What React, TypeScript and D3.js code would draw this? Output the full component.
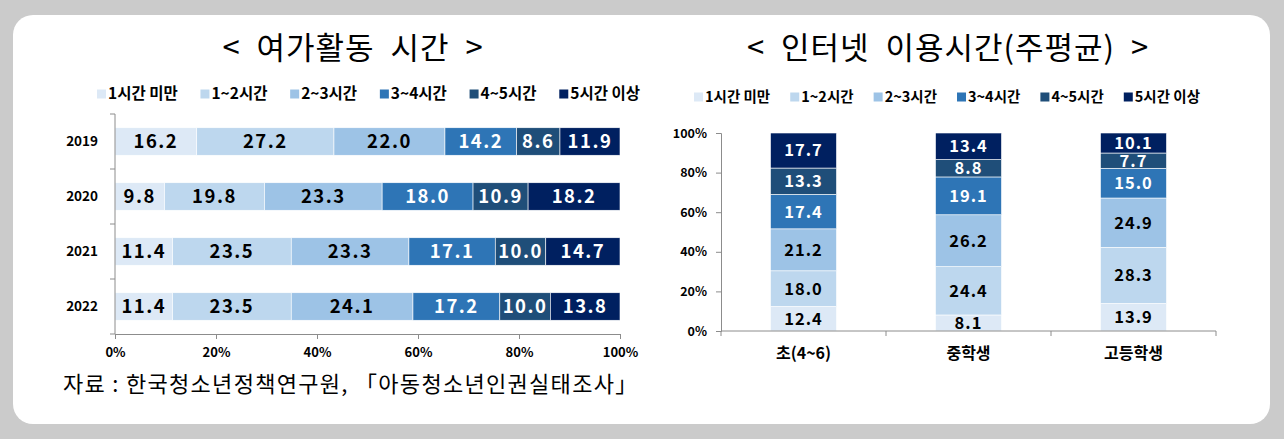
import { useEffect, useRef } from 'react';
import * as d3 from 'd3';

const seriesNames = ['1시간 미만', '1~2시간', '2~3시간', '3~4시간', '4~5시간', '5시간 이상'];
const seriesColors = ['#dde9f6', '#bdd7ee', '#9dc3e6', '#2e75b6', '#1f4e79', '#002060'];
const darkSeries = [false, false, false, true, true, true];

// 여가활동 시간
const years = ['2019', '2020', '2021', '2022'];
const leisure2019 = [16.2, 27.2, 22.0, 14.2, 8.6, 11.9];
const leisure2020 = [9.8, 19.8, 23.3, 18.0, 10.9, 18.2];
const leisure2021 = [11.4, 23.5, 23.3, 17.1, 10.0, 14.7];
const leisure2022 = [11.4, 23.5, 24.1, 17.2, 10.0, 13.8];

// 인터넷 이용시간(주평균)
const schoolLevels = ['초(4~6)', '중학생', '고등학생'];
const internetElem = [12.4, 18.0, 21.2, 17.4, 13.3, 17.7];
const internetMiddle = [8.1, 24.4, 26.2, 19.1, 8.8, 13.4];
const internetHigh = [13.9, 28.3, 24.9, 15.0, 7.7, 10.1];

const pctTicks = [0, 0.2, 0.4, 0.6, 0.8, 1];

const W = 1284;
const H = 439;
const FONT = '"Noto Sans CJK KR", "Malgun Gothic", sans-serif';

type Row = { cat: string; [k: string]: number | string };

const toRows = (cats: string[], vals: number[][]): Row[] =>
  cats.map((c, i) => {
    const r: Row = { cat: c };
    seriesNames.forEach((s, j) => (r[s] = vals[i][j]));
    return r;
  });

function drawLegend(
  g: d3.Selection<SVGGElement, unknown, null, undefined>,
  x0: number,
  x1: number,
  cy: number,
  fontSize: number
) {
  // items spread over [x0, x1]
  const items = g.append('g');
  const lens: number[] = [];
  const nodes = seriesNames.map((s, i) => {
    const it = items.append('g');
    it.append('rect').attr('x', 0).attr('y', cy - 4.5).attr('width', 9).attr('height', 9).attr('fill', seriesColors[i]);
    const t = it
      .append('text')
      .attr('x', 11)
      .attr('y', cy)
      .attr('dy', '0.35em')
      .attr('font-size', fontSize)
      .attr('font-weight', 700)
      .attr('fill', '#000')
      .text(s);
    lens.push(11 + (t.node() as SVGTextElement).getComputedTextLength());
    return it;
  });
  const gap = (x1 - x0 - d3.sum(lens)) / (seriesNames.length - 1);
  let x = x0;
  nodes.forEach((n, i) => {
    n.attr('transform', `translate(${x},0)`);
    x += lens[i] + gap;
  });
}

export default function App() {
  const svgRef = useRef<SVGSVGElement>(null);

  useEffect(() => {
    if (!svgRef.current) return;
    document.body.style.margin = '0';
    const svg = d3.select(svgRef.current);
    svg.selectAll('*').remove();
    svg.attr('font-family', FONT);

    svg.append('rect').attr('width', W).attr('height', H).attr('fill', '#cbcbcb');
    svg
      .append('rect')
      .attr('x', 13)
      .attr('y', 15)
      .attr('width', 1257)
      .attr('height', 409)
      .attr('rx', 20)
      .attr('fill', '#fff');

    const stack = d3.stack<Row>().keys(seriesNames).value((d, k) => d[k] as number).offset(d3.stackOffsetExpand);

    // ---------- left chart ----------
    const left = svg.append('g');
    left
      .append('text')
      .attr('x', 353)
      .attr('y', 48)
      .attr('dy', '0.35em')
      .attr('text-anchor', 'middle')
      .attr('font-size', 31)
      .attr('letter-spacing', 1)
      .attr('fill', '#000')
      .attr('xml:space', 'preserve')
      .text('<  여가활동  시간  >');
    drawLegend(left, 97, 640, 94, 15.5);

    const lx = d3.scaleLinear().domain([0, 1]).range([115, 620]);
    const ly = d3.scaleBand().domain(years).range([114, 334]).paddingInner(0.5).paddingOuter(0.25);
    const leftRows = toRows(years, [leisure2019, leisure2020, leisure2021, leisure2022]);
    const leftStack = stack(leftRows);

    leftStack.forEach((layer, i) => {
      const lg = left.append('g');
      lg.selectAll('rect')
        .data(layer)
        .join('rect')
        .attr('x', (d) => lx(d[0]))
        .attr('y', (d) => ly(d.data.cat)!)
        .attr('width', (d) => lx(d[1]) - lx(d[0]))
        .attr('height', ly.bandwidth())
        .attr('fill', seriesColors[i])
        .attr('stroke', '#fff')
        .attr('stroke-width', 0.6);
      lg.selectAll('text')
        .data(layer)
        .join('text')
        .attr('x', (d) => (lx(d[0]) + lx(d[1])) / 2)
        .attr('y', (d) => ly(d.data.cat)! + ly.bandwidth() / 2)
        .attr('dy', '0.36em')
        .attr('text-anchor', 'middle')
        .attr('font-size', 18.5)
        .attr('letter-spacing', 1.5)
        .attr('font-weight', 700)
        .attr('fill', darkSeries[i] ? '#fff' : '#000')
        .text((d) => (d.data[seriesNames[i]] as number).toFixed(1));
    });

    // y axis with ticks between categories
    const axisColor = '#8c8c8c';
    left.append('line').attr('x1', 115).attr('x2', 115).attr('y1', 114).attr('y2', 334).attr('stroke', axisColor);
    d3.range(years.length + 1).forEach((i) => {
      const yy = 114 + i * ly.step();
      left.append('line').attr('x1', 110).attr('x2', 115).attr('y1', yy).attr('y2', yy).attr('stroke', axisColor);
    });
    left
      .selectAll('text.year')
      .data(years)
      .join('text')
      .attr('class', 'year')
      .attr('x', 98)
      .attr('y', (d) => ly(d)! + ly.bandwidth() / 2)
      .attr('dy', '0.35em')
      .attr('text-anchor', 'end')
      .attr('font-size', 13.5)
      .attr('font-weight', 700)
      .text((d) => d);

    const xAxis = left
      .append('g')
      .attr('transform', 'translate(0,334)')
      .call(d3.axisBottom(lx).tickValues(pctTicks).tickFormat(d3.format('.0%')).tickSize(5).tickPadding(9));
    xAxis.select('.domain').attr('stroke', axisColor);
    xAxis.selectAll('line').attr('stroke', axisColor);
    xAxis
      .selectAll('text')
      .attr('font-size', 13)
      .attr('font-weight', 700)
      .attr('font-family', FONT)
      .attr('fill', '#000');

    // ---------- right chart ----------
    const right = svg.append('g');
    right
      .append('text')
      .attr('x', 948)
      .attr('y', 48)
      .attr('dy', '0.35em')
      .attr('text-anchor', 'middle')
      .attr('font-size', 31)
      .attr('letter-spacing', 1)
      .attr('fill', '#000')
      .attr('xml:space', 'preserve')
      .text('<  인터넷  이용시간(주평균)  >');
    drawLegend(right, 694, 1200, 97, 14.5);

    const rx = d3.scaleBand().domain(schoolLevels).range([721, 1216]).paddingInner(0.6).paddingOuter(0.3);
    const ry = d3.scaleLinear().domain([0, 1]).range([331, 133]);
    const rightRows = toRows(schoolLevels, [internetElem, internetMiddle, internetHigh]);
    const rightStack = stack(rightRows);

    rightStack.forEach((layer, i) => {
      const rg = right.append('g');
      rg.selectAll('rect')
        .data(layer)
        .join('rect')
        .attr('x', (d) => rx(d.data.cat)!)
        .attr('y', (d) => ry(d[1]))
        .attr('width', rx.bandwidth())
        .attr('height', (d) => ry(d[0]) - ry(d[1]))
        .attr('fill', seriesColors[i])
        .attr('stroke', '#fff')
        .attr('stroke-width', 0.6);
      rg.selectAll('text')
        .data(layer)
        .join('text')
        .attr('x', (d) => rx(d.data.cat)! + rx.bandwidth() / 2)
        .attr('y', (d) => (ry(d[0]) + ry(d[1])) / 2)
        .attr('dy', '0.36em')
        .attr('text-anchor', 'middle')
        .attr('font-size', 16.5)
        .attr('letter-spacing', 1)
        .attr('font-weight', 700)
        .attr('fill', darkSeries[i] ? '#fff' : '#000')
        .text((d) => (d.data[seriesNames[i]] as number).toFixed(1));
    });

    const yAxis = right
      .append('g')
      .attr('transform', 'translate(721,0)')
      .call(d3.axisLeft(ry).tickValues(pctTicks).tickFormat(d3.format('.0%')).tickSize(5).tickPadding(9));
    yAxis.select('.domain').attr('stroke', axisColor);
    yAxis.selectAll('line').attr('stroke', axisColor);
    yAxis
      .selectAll('text')
      .attr('font-size', 12.5)
      .attr('font-weight', 700)
      .attr('font-family', FONT)
      .attr('fill', '#000');

    right.append('line').attr('x1', 721).attr('x2', 1216).attr('y1', 331).attr('y2', 331).attr('stroke', axisColor);
    d3.range(schoolLevels.length + 1).forEach((i) => {
      const xx = 721 + i * rx.step();
      right.append('line').attr('x1', xx).attr('x2', xx).attr('y1', 331).attr('y2', 336).attr('stroke', axisColor);
    });
    right
      .selectAll('text.level')
      .data(schoolLevels)
      .join('text')
      .attr('class', 'level')
      .attr('x', (d) => rx(d)! + rx.bandwidth() / 2)
      .attr('y', 353)
      .attr('dy', '0.35em')
      .attr('text-anchor', 'middle')
      .attr('font-size', 16)
      .attr('font-weight', 600)
      .text((d) => d);

    // source
    svg
      .append('text')
      .attr('x', 63)
      .attr('y', 384)
      .attr('dy', '0.35em')
      .attr('font-size', 22)
      .attr('letter-spacing', 1.3)
      .attr('font-weight', 400)
      .attr('fill', '#000')
      .text('자료 : 한국청소년정책연구원, 「아동청소년인권실태조사」');
  }, []);

  return <svg ref={svgRef} width={W} height={H} style={{ display: 'block' }} />;
}
